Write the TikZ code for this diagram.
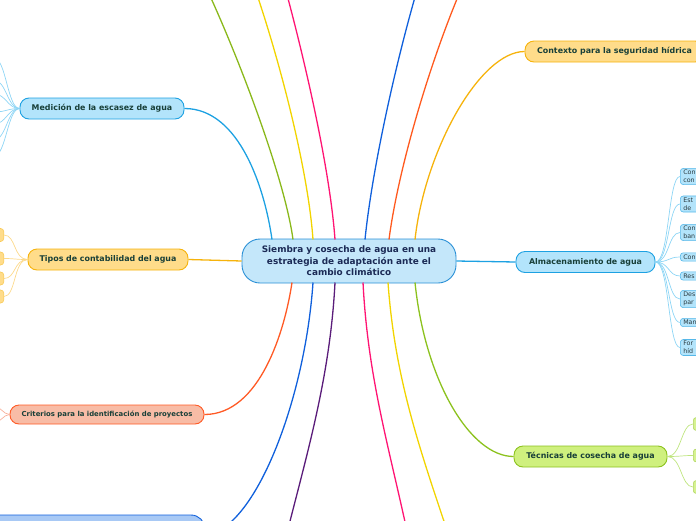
\documentclass[tikz,border=0pt]{standalone}
\usepackage{fontspec}
\setmainfont{DejaVu Sans}
\usepackage{tikz}
\usetikzlibrary{calc}

\definecolor{cenfill}{HTML}{C4E7FA}
\definecolor{cenline}{HTML}{2A90D6}
\definecolor{cyanfill}{HTML}{B3E4FB}
\definecolor{cyanline}{HTML}{1DA1E2}
\definecolor{cyantwig}{HTML}{8DD5F5}
\definecolor{yelfill}{HTML}{FFDC8A}
\definecolor{yelline}{HTML}{F6B30C}
\definecolor{yeltwig}{HTML}{FCD98A}
\definecolor{salfill}{HTML}{F8BCA6}
\definecolor{salline}{HTML}{FF5A25}
\definecolor{saltwig}{HTML}{F8B09A}
\definecolor{grnfill}{HTML}{CFF07E}
\definecolor{grnline}{HTML}{8CC21E}
\definecolor{grntwig}{HTML}{BFE57F}
\definecolor{bluefill}{HTML}{A8C9F5}
\definecolor{blueline}{HTML}{1060DC}
\definecolor{brgreen}{HTML}{8AB81B}
\definecolor{bryellow}{HTML}{F2D400}
\definecolor{brpink}{HTML}{FF1473}
\definecolor{brorange}{HTML}{FF5A1F}
\definecolor{brpurple}{HTML}{5A1C7A}
\definecolor{txtdark}{HTML}{183F38}
\definecolor{txtnavy}{HTML}{1B2A55}
\definecolor{txtleaf}{HTML}{2B3B40}

\begin{document}
\begin{tikzpicture}[x=1pt,y=-1pt,
  centre/.style={rectangle,draw=cenline,fill=cenfill,line width=0.9pt,rounded corners=18pt,
                 minimum width=214pt,minimum height=44pt,inner sep=1pt,align=center,
                 font=\fontsize{8.9}{11.6}\selectfont\bfseries,text=txtnavy},
  topic/.style={rectangle,draw,line width=0.9pt,rounded corners=9pt,minimum height=21pt,
                inner sep=1pt,font=\fontsize{7.9}{9.5}\selectfont\bfseries,text=txtdark},
  leaf/.style={rectangle,draw=cyanline!75,fill=cyanfill,line width=0.6pt,rounded corners=3pt,
               inner xsep=3pt,inner ysep=1.8pt,text width=36pt,align=left,anchor=west,
               font=\fontsize{6.3}{7.8}\selectfont,text=txtleaf},
  stub/.style={rectangle,draw,line width=0.6pt,rounded corners=3pt,minimum width=24pt,minimum height=13pt},
  link/.style={line width=1.3pt},
  twig/.style={line width=0.7pt},
]
\useasboundingbox (0,0) rectangle (696,520);
\clip (0,0) rectangle (696,520);

% centre and main topics
\node[centre] (ctr) at (349,261) {Siembra y cosecha de agua en una\\estrategia de adaptación ante el\\cambio climático};
\node[topic,draw=cyanline,fill=cyanfill,minimum width=164pt] (medic) at (102,108.5) {Medición de la escasez de agua};
\node[topic,draw=yelline,fill=yelfill,minimum width=160pt] (tipos) at (108,259.5) {Tipos de contabilidad del agua};
\node[topic,draw=salline,fill=salfill,minimum width=194pt,minimum height=19pt,
      font=\fontsize{6.9}{8.5}\selectfont\bfseries] (crit) at (107,414.5) {Criterios para la identificación de proyectos};
\node[topic,draw=blueline,fill=bluefill,minimum width=246pt,minimum height=40pt,rounded corners=14pt] (bot) at (82,535) {};
\node[topic,draw=yelline,fill=yelfill,minimum width=179pt] (ctx) at (614.5,51.5) {Contexto para la seguridad hídrica};
\node[topic,draw=cyanline,fill=cyanfill,minimum width=139pt] (almac) at (585.5,262) {Almacenamiento de agua};
\node[topic,draw=grnline,fill=grnfill,minimum width=153pt] (tecn) at (590.5,456.5) {Técnicas de cosecha de agua};

% attachment points on the centre
\coordinate (t1) at (272,239.5);
\coordinate (t2) at (293,239.5);
\coordinate (t3) at (313,239.5);
\coordinate (t4) at (335,239.5);
\coordinate (t5) at (365,239.5);
\coordinate (t6) at (389,239.5);
\coordinate (t7) at (415,239.5);
\coordinate (b1) at (292,282.5);
\coordinate (b2) at (313,282.5);
\coordinate (b3) at (335,282.5);
\coordinate (b4) at (363,282.5);
\coordinate (b5) at (388,282.5);
\coordinate (b6) at (415,282.5);

% branches leaving the page
\coordinate (upgrn) at (205,-15);
\coordinate (upyel) at (252,-20);
\coordinate (uppnk) at (283,-20);
\coordinate (upblu) at (420,-20);
\coordinate (uporg) at (465,-20);
\coordinate (dnpur) at (284,545);
\coordinate (dnpnk) at (410,545);
\coordinate (dnyel) at (452,545);

\draw[link,brgreen]  (t2) .. controls (285,180) and (240,60) .. (upgrn);
\draw[link,bryellow] (t3) .. controls (308,170) and (280,60) .. (upyel);
\draw[link,brpink]   (t4) .. controls (330,170) and (305,60) .. (uppnk);
\draw[link,blueline] (t5) .. controls (372,170) and (396,60) .. (upblu);
\draw[link,brorange] (t6) .. controls (398,170) and (430,60) .. (uporg);
\draw[link,brpurple] (b3) .. controls (330,380) and (305,460) .. (dnpur);
\draw[link,brpink]   (b4) .. controls (368,380) and (390,450) .. (dnpnk);
\draw[link,bryellow] (b5) .. controls (395,380) and (420,450) .. (dnyel);

% branches to topics
\draw[link,cyanline] (medic.east) .. controls (240,108.5) and (265,190) .. (t1);
\draw[link,yelline]  (tipos.east) .. controls (215,259.5) and (215,261) .. (ctr.west);
\draw[link,salline]  (crit.east) .. controls (260,414.5) and (285,330) .. (b1);
\draw[link,blueline] (bot.east) .. controls (255,530) and (305,400) .. (b2);
\draw[link,yelline]  (t7) .. controls (425,150) and (480,51.5) .. (ctx.west);
\draw[link,cyanline] (ctr.east) .. controls (486,261) and (486,262) .. (almac.west);
\draw[link,grnline]  (b6) .. controls (425,380) and (470,456.5) .. (tecn.west);

% sub-topics of Almacenamiento
\node[leaf] (al1) at (680,176.5) {Con\\con};
\node[leaf] (al2) at (680,204) {Est\\de};
\node[leaf] (al3) at (680,232.5) {Con\\ban};
\node[leaf] (al4) at (680,257) {Con};
\node[leaf] (al5) at (680,276) {Res};
\node[leaf] (al6) at (680,299) {Des\\par};
\node[leaf] (al7) at (680,322.5) {Man};
\node[leaf] (al8) at (680,347.5) {For\\híd};
\foreach \i in {1,...,8}
  \draw[twig,cyantwig] (almac.east) .. controls +(14,0) and +(-12,0) .. (al\i.west);

% sub-topics of Técnicas
\foreach \y [count=\i] in {424,455.5,487}{
  \node[stub,draw=grnline!70,fill=grnfill!85,anchor=west] (tc\i) at (693,\y) {};
  \draw[twig,grntwig] (tecn.east) .. controls +(14,0) and +(-12,0) .. (tc\i.west);
}

% sub-topics of Tipos
\foreach \y [count=\i] in {235,258.5,278.5,296.5}{
  \node[stub,draw=yelline!70,fill=yelfill,anchor=east] (tp\i) at (4,\y) {};
  \draw[twig,yeltwig] (tipos.west) .. controls +(-14,0) and +(12,0) .. (tp\i.east);
}

% sub-topics of Medición (off the page)
\foreach \y [count=\i] in {58,80,94,112,124,140,156}{
  \coordinate (mc\i) at (-6,\y);
  \draw[twig,cyantwig] (medic.west) .. controls +(-12,0) and +(12,0) .. (mc\i);
}

% sub-topics of Criterios (off the page)
\coordinate (cr1) at (-6,406);
\coordinate (cr2) at (-6,423);
\draw[twig,saltwig] (crit.west) .. controls +(-6,0) and +(6,0) .. (cr1);
\draw[twig,saltwig] (crit.west) .. controls +(-6,0) and +(6,0) .. (cr2);
\end{tikzpicture}
\end{document}
